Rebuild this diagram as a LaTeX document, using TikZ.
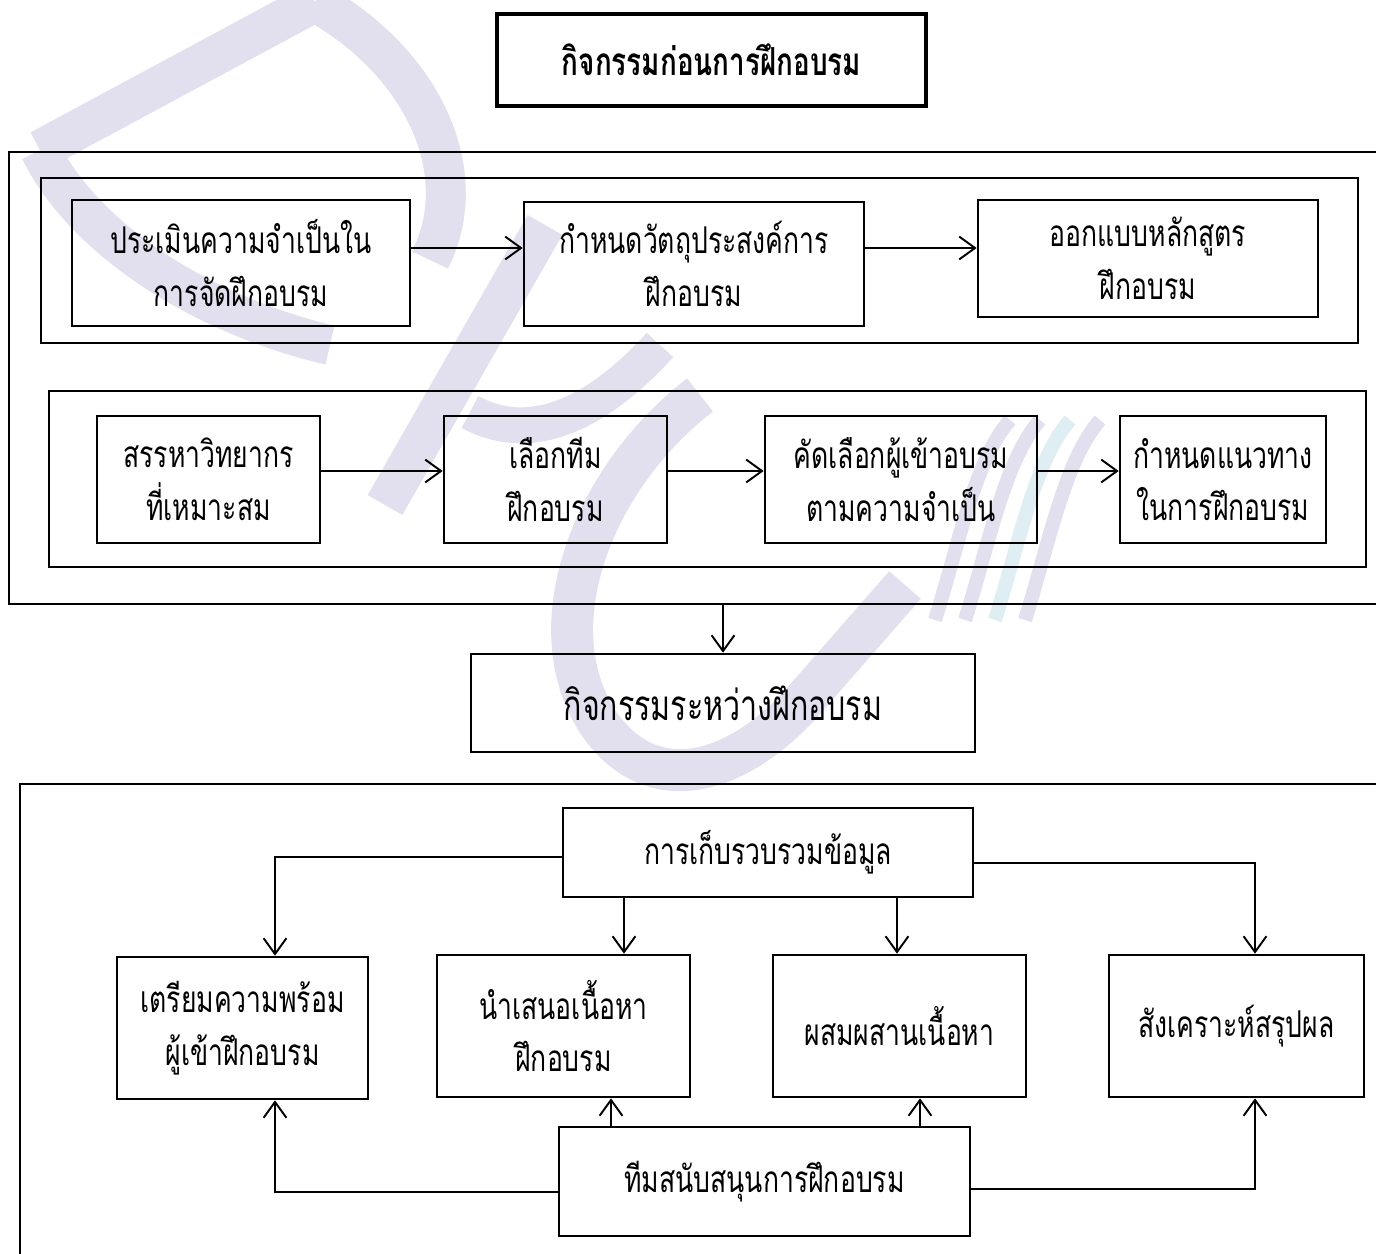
\documentclass[tikz,border=0pt]{standalone}
\usepackage{fontspec}
\usetikzlibrary{arrows.meta}
\newfontfamily\thai[Script=Thai,FakeStretch=0.72]{Loma}
\newfontfamily\thaibold[Script=Thai,FakeStretch=0.72]{Loma Bold}
\definecolor{wmark}{RGB}{226,223,238}
\definecolor{wmarkc}{RGB}{222,238,243}
\begin{document}
\begin{tikzpicture}[x=0.02cm,y=-0.02cm,
  bx/.style 2 args={draw=black,line width=1.5pt,inner sep=0pt,
    minimum width=#1*0.02cm,minimum height=#2*0.02cm,align=center,
    font=\thai\fontsize{21}{30}\selectfont},
  framebox/.style 2 args={draw=black,line width=1.5pt,inner sep=0pt,
    minimum width=#1*0.02cm,minimum height=#2*0.02cm},
  arr/.style={line width=1.1pt,-{Straight Barb[length=9pt,width=13pt,line width=1.1pt]}},
  wm/.style={draw=wmark,line width=#1*0.569pt},
  wm/.default=40]
\useasboundingbox (0,0) rectangle (1376,1254);
\begin{scope}
\clip (0,0) rectangle (1376,1254);

% faint logo in the background
\draw[wm] (315,2) -- (40,150);
\draw[wm] (40,150) .. controls (90,250) and (220,320) .. (330,345);
\draw[wm] (315,2) .. controls (420,60) and (475,170) .. (430,260);
\draw[wm] (545,225) -- (385,505);
\draw[wm=36] (470,412) .. controls (540,450) and (610,400) .. (660,345);
\draw[wm=42] (700,395) .. controls (590,480) and (535,630) .. (600,725)
  .. controls (650,795) and (730,780) .. (800,705) -- (905,585);
\foreach \dx/\c in {0/wmark,30/wmark,60/wmarkc,90/wmark}
  \draw[draw=\c,line width=8pt]
    (1010+\dx,420) .. controls (975+\dx,460) and (960+\dx,540) .. (935+\dx,620);

% outer frames
\node[framebox={1420}{452}] (pre) at (719,378) {};
\node[framebox={1317}{165}] (rowA) at (699.5,260.5) {};
\node[framebox={1317}{176}] (rowB) at (707.5,479) {};
\node[framebox={1420}{520}] (during) at (730,1044) {};

% title
\node[draw,line width=2.6pt,inner sep=0pt,minimum width=429*0.02cm,minimum height=92*0.02cm,
  font=\thaibold\fontsize{22}{26}\selectfont] (title) at (711.5,60) {กิจกรรมก่อนการฝึกอบรม};

% pre-training row A
\node[bx={338}{126}] (a1) at (241,263) {ประเมินความจำเป็นใน\\การจัดฝึกอบรม};
\node[bx={340}{124}] (a2) at (694,264) {กำหนดวัตถุประสงค์การ\\ฝึกอบรม};
\node[bx={340}{117}] (a3) at (1148,258.5) {ออกแบบหลักสูตร\\ฝึกอบรม};

% pre-training row B
\node[bx={223}{127}] (b1) at (208.5,479.5) {สรรหาวิทยากร\\ที่เหมาะสม};
\node[bx={223}{127}] (b2) at (555.5,479.5) {เลือกทีม\\ฝึกอบรม};
\node[bx={272}{127}] (b3) at (901,479.5) {คัดเลือกผู้เข้าอบรม\\ตามความจำเป็น};
\node[bx={206}{127}] (b4) at (1223,479.5) {กำหนดแนวทาง\\ในการฝึกอบรม};

% during-training heading
\node[bx={504}{98},font=\thai\fontsize{24}{28}\selectfont] (mid) at (723,703) {กิจกรรมระหว่างฝึกอบรม};

% during-training activities
\node[bx={410}{89}] (collect) at (768,852.5) {การเก็บรวบรวมข้อมูล};
\node[bx={411}{109}] (team) at (764.5,1181.5) {ทีมสนับสนุนการฝึกอบรม};
\node[bx={251}{142}] (c1) at (242.5,1028) {เตรียมความพร้อม\\ผู้เข้าฝึกอบรม};
\node[bx={253}{142}] (c2) at (563.5,1026) {นำเสนอเนื้อหา\\ฝึกอบรม};
\node[bx={253}{142}] (c3) at (899.5,1026) {ผสมผสานเนื้อหา};
\node[bx={255}{142}] (c4) at (1236.5,1026) {สังเคราะห์สรุปผล};

% connectors
\draw[arr] (a1.east |- 0,248) -- (a2.west |- 0,248);
\draw[arr] (a2.east |- 0,248) -- (a3.west |- 0,248);
\draw[arr] (b1.east |- 0,471) -- (b2.west |- 0,471);
\draw[arr] (b2.east |- 0,471) -- (b3.west |- 0,471);
\draw[arr] (b3.east |- 0,471) -- (b4.west |- 0,471);
\draw[arr] (mid.north |- pre.south) -- (mid.north);

\draw[arr] (collect.west |- 0,857) -| (c1.north -| 275,0);
\draw[arr] (collect.south -| 624,0) -- (c2.north -| 624,0);
\draw[arr] (collect.south -| 897,0) -- (c3.north -| 897,0);
\draw[arr] (collect.east |- 0,863) -| (c4.north -| 1255,0);

\draw[arr] (team.west |- 0,1192) -| (c1.south -| 275,0);
\draw[arr] (team.north -| 611,0) -- (c2.south -| 611,0);
\draw[arr] (team.north -| 920,0) -- (c3.south -| 920,0);
\draw[arr] (team.east |- 0,1189) -| (c4.south -| 1255,0);
\end{scope}
\end{tikzpicture}
\end{document}
